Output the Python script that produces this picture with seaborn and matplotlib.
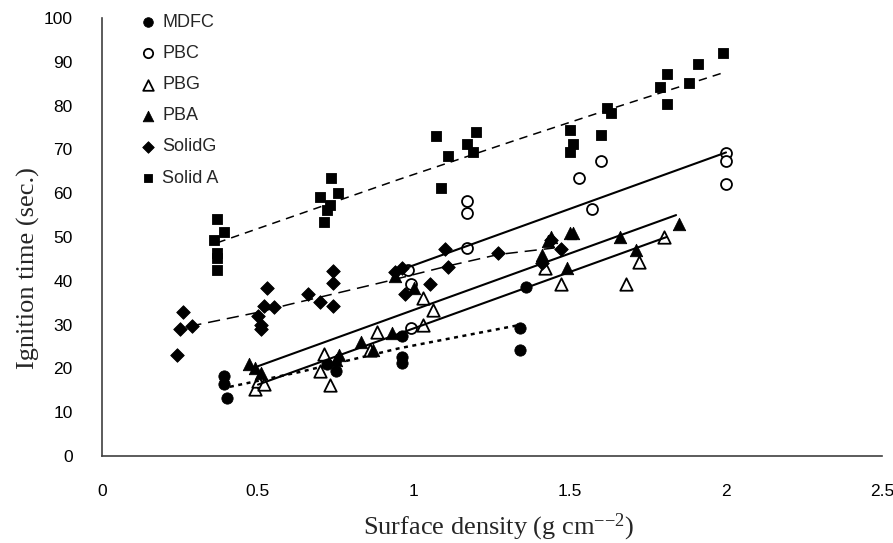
import matplotlib
matplotlib.use("Agg")
import matplotlib.pyplot as plt
import seaborn as sns

# values
mdfc_x = [0.39, 0.39, 0.40, 0.72, 0.75, 0.96, 0.96, 0.96, 1.34, 1.34, 1.36]
mdfc_y = [18.2, 16.4, 13.3, 21.0, 19.5, 27.5, 22.5, 21.3, 29.2, 24.2, 38.5]

pbc_x = [0.98, 0.99, 0.99, 1.17, 1.17, 1.17, 1.53, 1.57, 1.60, 2.00, 2.00, 2.00]
pbc_y = [42.5, 39.3, 29.3, 47.5, 55.5, 58.3, 63.5, 56.3, 67.3, 69.2, 67.3, 62.0]

pbg_x = [0.49, 0.50, 0.52, 0.70, 0.71, 0.73, 0.86, 0.88, 1.03, 1.06, 1.03,
         1.42, 1.47, 1.68, 1.72, 1.80]
pbg_y = [15.3, 17.2, 16.5, 19.3, 23.2, 16.3, 24.3, 28.2, 36.0, 33.3, 30.0,
         43.0, 39.3, 39.3, 44.3, 50.0]

pba_x = [0.47, 0.49, 0.51, 0.75, 0.76, 0.83, 0.87, 0.93, 0.94, 1.00, 1.41,
         1.43, 1.44, 1.49, 1.50, 1.51, 1.66, 1.71, 1.85]
pba_y = [21.0, 20.0, 19.0, 22.0, 23.0, 26.0, 24.3, 28.0, 41.0, 38.3, 46.0,
         49.0, 50.0, 43.0, 51.0, 51.0, 50.0, 47.0, 53.0]

solidg_x = [0.24, 0.25, 0.26, 0.29, 0.50, 0.51, 0.51, 0.52, 0.53, 0.55, 0.66,
            0.70, 0.74, 0.74, 0.74, 0.94, 0.96, 0.97, 1.05, 1.10, 1.11, 1.27,
            1.41, 1.44, 1.47]
solidg_y = [23.0, 29.0, 32.8, 29.7, 32.0, 29.0, 30.0, 34.3, 38.3, 34.0, 37.0,
            35.2, 42.2, 39.5, 34.3, 42.0, 43.0, 37.0, 39.3, 47.3, 43.2, 46.3,
            44.0, 49.3, 47.3]

solida_x = [0.36, 0.37, 0.37, 0.37, 0.37, 0.39, 0.70, 0.71, 0.72, 0.73, 0.735,
            0.757, 1.07, 1.086, 1.11, 1.17, 1.19, 1.20, 1.50, 1.50, 1.51, 1.60,
            1.62, 1.63, 1.79, 1.81, 1.81, 1.88, 1.91, 1.99]
solida_y = [49.3, 54.0, 42.4, 45.3, 46.3, 51.2, 59.1, 53.4, 56.2, 57.3, 63.5,
            60.0, 73.0, 61.2, 68.5, 71.3, 69.3, 74.0, 74.5, 69.5, 71.3, 73.3,
            79.5, 78.3, 84.3, 87.3, 80.3, 85.2, 89.5, 92.0]

# trend lines (vertices)
mdfc_fit_x = [0.41, 0.635, 0.953, 1.33]
mdfc_fit_y = [15.8, 19.2, 24.6, 29.8]
pbc_fit_x = [0.97, 2.0]
pbc_fit_y = [42.8, 69.3]
pba_fit_x = [0.5, 1.84]
pba_fit_y = [20.5, 55.0]
pbg_fit_x = [0.5, 1.81]
pbg_fit_y = [16.3, 50.0]
solidg_fit_x = [0.28, 0.5, 0.6, 0.92, 1.11, 1.27, 1.45]
solidg_fit_y = [29.6, 32.8, 34.6, 40.0, 43.4, 46.0, 47.5]
solida_fit_x = [0.37, 0.95, 1.33, 1.62, 2.0]
solida_fit_y = [48.7, 63.1, 72.2, 79.0, 87.7]

sns.set_style("white")
plt.rcParams["font.family"] = ["Liberation Sans", "DejaVu Sans"]
plt.rcParams["mathtext.default"] = "regular"

fig = plt.figure(figsize=(8.93, 5.43), dpi=100)
ax = fig.add_axes([0.1142, 0.1602, 0.8735, 0.8067])

series = [
    ("MDFC", mdfc_x, mdfc_y, "o", 66, "black"),
    ("PBC", pbc_x, pbc_y, "o", 62, "white"),
    ("PBG", pbg_x, pbg_y, "^", 80, "white"),
    ("PBA", pba_x, pba_y, "^", 80, "black"),
    ("SolidG", solidg_x, solidg_y, "D", 48, "black"),
    ("Solid A", solida_x, solida_y, "s", 48, "black"),
]
for label, xs, ys, mk, size, face in series:
    lw = 1.3 if face == "white" else 0.6
    sns.scatterplot(x=xs, y=ys, marker=mk, s=size, color="black",
                    facecolor=face, edgecolor="black", linewidth=lw,
                    label=label, ax=ax, zorder=3)

# trend lines
sns.lineplot(x=mdfc_fit_x, y=mdfc_fit_y, color="black", lw=1.8,
             linestyle=(0, (1.6, 1.8)), sort=False, ax=ax, zorder=4)
for fx, fy in [(pbc_fit_x, pbc_fit_y), (pba_fit_x, pba_fit_y), (pbg_fit_x, pbg_fit_y)]:
    sns.lineplot(x=fx, y=fy, color="black", lw=1.5, sort=False, ax=ax, zorder=4)
sns.lineplot(x=solidg_fit_x, y=solidg_fit_y, color="black", lw=1.1,
             linestyle=(0, (8, 4.5)), sort=False, ax=ax, zorder=4)
sns.lineplot(x=solida_fit_x, y=solida_fit_y, color="black", lw=1.1,
             linestyle=(0, (5.5, 4)), sort=False, ax=ax, zorder=4)

ax.set_xlim(0, 2.5)
ax.set_ylim(0, 100)
ax.set_xticks([0, 0.5, 1, 1.5, 2, 2.5])
ax.set_xticklabels(["0", "0.5", "1", "1.5", "2", "2.5"])
ax.set_yticks(range(0, 101, 10))
ax.tick_params(axis="both", direction="in", length=6, width=1,
               color="#404040", labelsize=12.5, labelcolor="black")
ax.tick_params(axis="y", pad=21)
ax.tick_params(axis="x", pad=20)
sns.despine(ax=ax)
for side in ["left", "bottom"]:
    ax.spines[side].set_color("#404040")
    ax.spines[side].set_linewidth(1.2)

ax.set_xlabel("Surface density (g cm$^{{-}{-}2}$)", family="Liberation Serif", fontsize=19)
ax.set_ylabel("Ignition time (sec.)", family="Liberation Serif", fontsize=19)
ax.xaxis.set_label_coords(0.508, -0.128)
ax.yaxis.set_label_coords(-0.079, 0.429)

ax.legend(loc="upper left", bbox_to_anchor=(0.1576, 0.974),
          bbox_transform=fig.transFigure, frameon=False, fontsize=13,
          handlelength=0.85, handletextpad=0.35, labelspacing=0.78,
          borderpad=0, borderaxespad=0, markerscale=0.85, scatterpoints=1)

fig.savefig("out.png", dpi=100)
